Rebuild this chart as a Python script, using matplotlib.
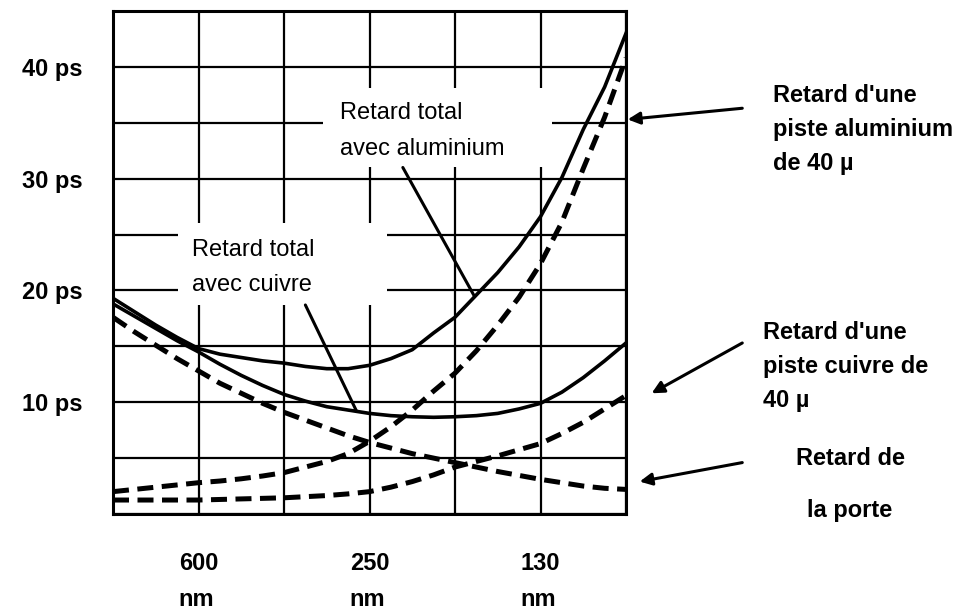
import numpy as np
import matplotlib
matplotlib.use('Agg')
import matplotlib.pyplot as plt
from matplotlib.patches import Rectangle

plt.rcParams['font.family'] = ['Liberation Sans', 'DejaVu Sans']

# position along the technology axis (grid columns), one value every quarter column
pos = [0, 0.25, 0.5, 0.75, 1, 1.25, 1.5, 1.75, 2, 2.25, 2.5, 2.75, 3,
       3.25, 3.5, 3.75, 4, 4.25, 4.5, 4.75, 5, 5.25, 5.5, 5.75, 6]

# delays in ps
total_alu = [19.3, 18.1, 16.9, 15.8, 14.8, 14.3, 14.0, 13.7, 13.5, 13.2, 13.0, 13.0, 13.3,
             13.9, 14.7, 16.2, 17.6, 19.6, 21.6, 23.9, 26.6, 30.1, 34.4, 38.2, 43.0]
total_cu = [18.8, 17.7, 16.6, 15.5, 14.5, 13.4, 12.4, 11.5, 10.7, 10.1, 9.6, 9.3, 9.0,
            8.8, 8.7, 8.65, 8.7, 8.8, 9.0, 9.4, 9.9, 10.9, 12.2, 13.7, 15.3]
gate = [17.6, 16.3, 15.1, 13.9, 12.8, 11.7, 10.8, 9.9, 9.1, 8.4, 7.7, 7.0, 6.4,
        5.9, 5.4, 5.0, 4.6, 4.2, 3.8, 3.45, 3.1, 2.8, 2.5, 2.3, 2.2]
wire_alu = [2.0, 2.2, 2.4, 2.6, 2.8, 2.95, 3.15, 3.4, 3.7, 4.2, 4.7, 5.4, 6.5,
            7.8, 9.3, 11.0, 12.6, 14.6, 16.9, 19.4, 22.4, 26.1, 30.9, 35.5, 40.8]
wire_cu = [1.25, 1.25, 1.25, 1.25, 1.25, 1.3, 1.35, 1.4, 1.45, 1.55, 1.65, 1.8, 2.0,
           2.4, 2.9, 3.5, 4.2, 4.7, 5.2, 5.75, 6.3, 7.2, 8.2, 9.4, 10.6]

node_pos = [1, 3, 5]
node_labels = ['600\nnm', '250\nnm', '130\nnm']
y_ticks = list(range(0, 46, 5))
y_labels = ['%d ps' % v if v in (10, 20, 30, 40) else '' for v in y_ticks]

W, H = 967, 612
fig = plt.figure(figsize=(W / 100, H / 100), dpi=100)
ax = fig.add_axes([113 / W, 1 - 514 / H, (626 - 113) / W, (514 - 11) / H])
ax.set_xlim(0, 6)
ax.set_ylim(0, 45)

ax.set_xticks(range(7))
ax.set_yticks(y_ticks)
ax.set_yticklabels(y_labels, fontsize=17, fontweight='bold')
ax.tick_params(length=0, labelbottom=False, pad=22)
ax.set_axisbelow(True)
ax.grid(True, color='black', lw=1.6)
for s in ax.spines.values():
    s.set_linewidth(2.2)

for p, lab in zip(node_pos, node_labels):
    ax.text(p, -0.075, lab, transform=ax.get_xaxis_transform(), ha='center', va='top',
            ma='left', fontsize=17, fontweight='bold', linespacing=1.75)

dash = (0, (3.2, 1.7))
ax.plot(pos, total_alu, color='black', lw=2.6, zorder=2)
ax.plot(pos, total_cu, color='black', lw=2.6, zorder=2)
ax.plot(pos, gate, color='black', lw=3.6, linestyle=dash, zorder=2)
ax.plot(pos, wire_alu, color='black', lw=3.6, linestyle=dash, zorder=2)
ax.plot(pos, wire_cu, color='black', lw=3.6, linestyle=dash, zorder=2)

# label boxes for the two totals, with pointer lines to the curves
ax.add_patch(Rectangle((2.46, 31.0), 2.67, 7.1, fc='white', ec='none', zorder=1))
ax.text(2.65, 36.9, 'Retard total\navec aluminium', ha='left', va='top',
        fontsize=17, linespacing=1.85, zorder=3)
ax.annotate('', xy=(4.23, np.interp(4.23, pos, total_alu)), xytext=(3.39, 31.0),
            arrowprops=dict(arrowstyle='-', lw=2.2, color='black', shrinkA=0, shrinkB=0))

ax.add_patch(Rectangle((0.76, 18.7), 2.44, 7.3, fc='white', ec='none', zorder=1))
ax.text(0.92, 24.6, 'Retard total\navec cuivre', ha='left', va='top',
        fontsize=17, linespacing=1.75, zorder=3)
ax.annotate('', xy=(2.85, np.interp(2.85, pos, total_cu)), xytext=(2.25, 18.7),
            arrowprops=dict(arrowstyle='-', lw=2.2, color='black', shrinkA=0, shrinkB=0))

# arrows from the right-hand captions
arrow = dict(arrowstyle='-|>', lw=2.2, color='black', mutation_scale=18, shrinkA=0, shrinkB=0)
ax.annotate('', xy=(6.02, 35.3), xytext=(7.36, 36.3), arrowprops=arrow, annotation_clip=False)
ax.annotate('', xy=(6.30, 10.8), xytext=(7.36, 15.3), arrowprops=arrow, annotation_clip=False)
ax.annotate('', xy=(6.16, 2.9), xytext=(7.36, 4.6), arrowprops=arrow, annotation_clip=False)

fig.text(773 / W, 1 - 84 / H, "Retard d'une\npiste aluminium\nde 40 µ", ha='left', va='top',
         fontsize=17, fontweight='bold', linespacing=1.6)
fig.text(763 / W, 1 - 321 / H, "Retard d'une\npiste cuivre de\n40 µ", ha='left', va='top',
         fontsize=17, fontweight='bold', linespacing=1.6)
fig.text(850 / W, 1 - 447 / H, 'Retard de\nla porte', ha='center', va='top',
         fontsize=17, fontweight='bold', linespacing=2.6)

fig.savefig('out.png', dpi=100, facecolor='white')
